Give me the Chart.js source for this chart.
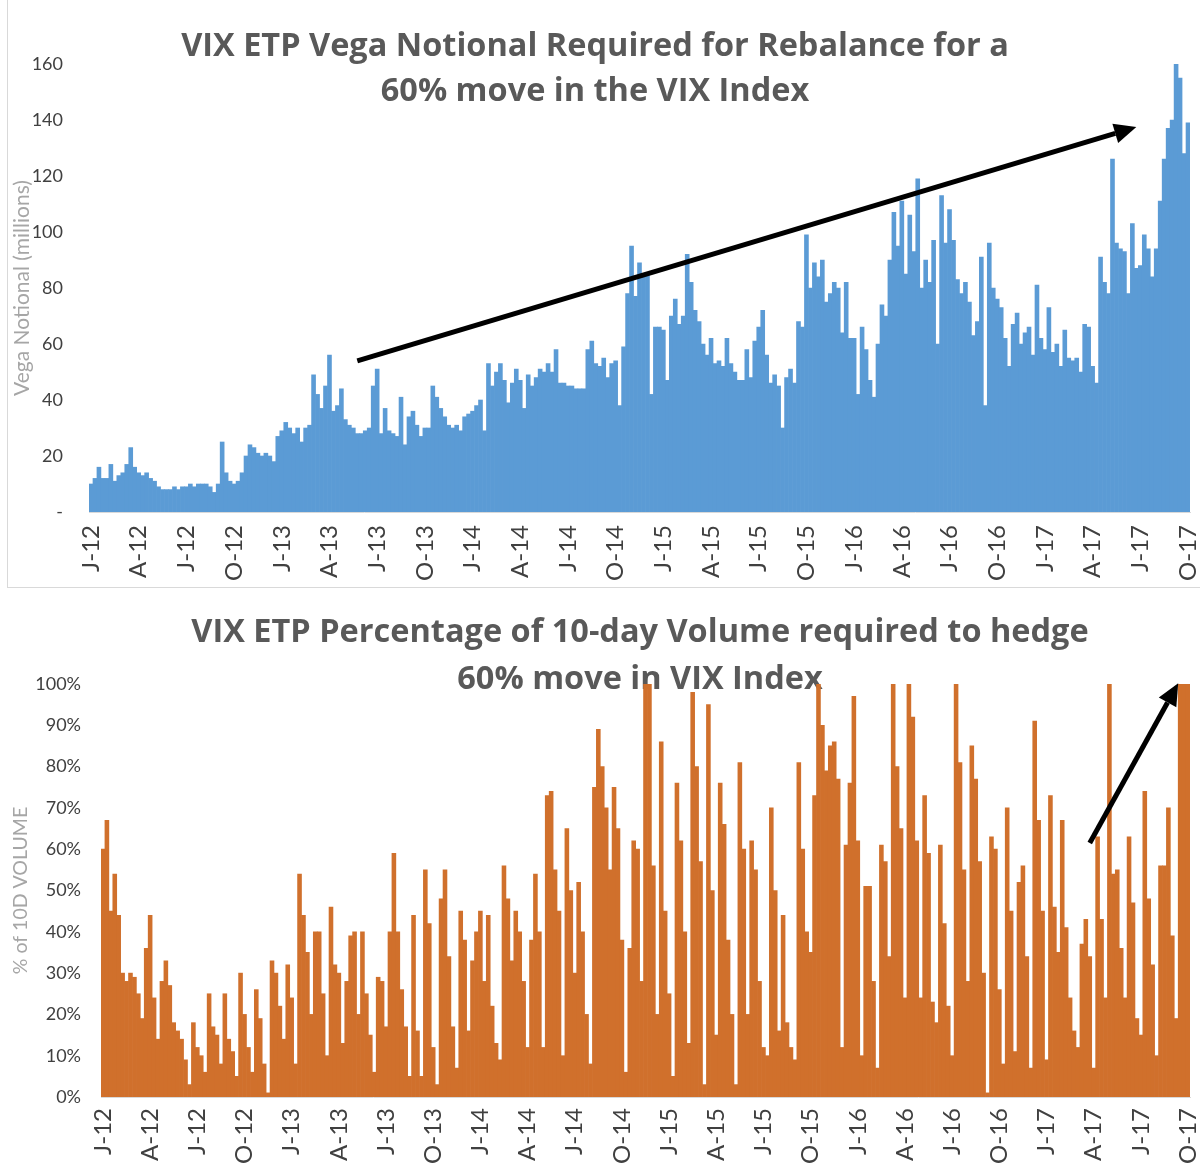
<!DOCTYPE html>
<html>
<head>
<meta charset="utf-8">
<title>VIX ETP rebalance charts</title>
<script src="https://cdn.jsdelivr.net/npm/chart.js@4.4.1/dist/chart.umd.min.js"></script>
<style>
  html, body { margin: 0; padding: 0; background: #fff; }
  #page { position: relative; width: 1200px; height: 1164px; overflow: hidden; }
  #topFrame {
    position: absolute; left: 7px; top: -2px; width: 1210px; height: 589px;
    border-left: 1px solid #d9d9d9; border-bottom: 1px solid #d9d9d9;
  }
  canvas { position: absolute; left: 0; }
  #vegaChart { top: 0; }
  #volumeChart { top: 592px; }
</style>
</head>
<body>
<div id="page">
  <div id="topFrame"></div>
  <canvas id="vegaChart" width="1200" height="588"></canvas>
  <canvas id="volumeChart" width="1200" height="572"></canvas>
</div>
<script>
// quarter tick labels, one every 3 months (4 points per month -> every 12 points)
const quarterLabels = ['J-12','A-12','J-12','O-12','J-13','A-13','J-13','O-13',
  'J-14','A-14','J-14','O-14','J-15','A-15','J-15','O-15',
  'J-16','A-16','J-16','O-16','J-17','A-17','J-17','O-17'];

// vega notional (millions), roughly weekly readings
const vega2012 = [10,12,16,12, 12,17,11,13, 14,17,23,16, 14,13,14,12, 11,9,8,8, 8,9,8,9,
  9,10,9,10, 10,10,9,7, 10,25,14,11, 10,11,14,20, 24,23,21,20, 21,20,18,27];
const vega2013 = [29,32,30,28, 30,25,30,31, 49,42,37,45, 56,36,38,44, 33,31,30,28, 28,29,30,45,
  51,28,37,29, 28,27,41,24, 34,36,31,27, 30,30,45,41, 37,34,31,30, 31,29,34,35];
const vega2014 = [36,38,40,29, 53,45,50,53, 47,39,46,51, 47,37,49,45, 48,51,50,53, 50,58,46,46,
  45,45,44,44, 44,58,61,53, 52,55,48,53, 54,38,59,78, 95,77,89,84, 85,42,66,66];
const vega2015 = [65,47,70,76, 67,70,92,82, 72,68,60,56, 62,53,54,52, 62,53,50,47, 47,58,48,61,
  66,72,56,46, 49,45,30,48, 51,46,68,66, 99,80,89,84, 90,75,78,82, 80,64,82,62];
const vega2016 = [62,42,66,58, 47,41,60,74, 70,90,107,95, 111,85,106,93, 119,80,90,82, 97,60,113,96,
  108,97,83,78, 82,75,63,68, 91,38,96,80, 76,73,62,52, 67,71,60,64, 66,56,81,62];
const vega2017 = [58,73,57,60, 52,65,55,54, 55,50,67,66, 52,46,91,82, 78,126,96,94, 93,78,103,87,
  88,99,94,84, 94,111,126,137, 140,160,155,128, 139];

// % of 10-day volume, same weekly grid
const pct2012 = [60,67,45,54, 44,30,28,30, 29,25,19,36, 44,24,14,28, 33,27,18,16, 14,9,3,18,
  12,10,6,25, 17,15,8,25, 14,11,5,30, 20,12,6,26, 19,8,1,33, 30,22,14,32];
const pct2013 = [24,8,54,44, 35,20,40,40, 25,10,46,32, 30,13,28,39, 40,20,40,25, 15,6,29,28,
  17,40,59,40, 26,17,5,44, 16,5,55,42, 12,3,48,55, 34,17,7,45, 38,16,33,40];
const pct2014 = [45,28,44,22, 13,9,56,48, 33,45,40,28, 12,38,54,40, 12,73,74,55, 45,10,65,50,
  30,52,40,20, 8,75,89,80, 70,55,75,65, 38,6,36,62, 60,28,100,100, 56,20,86,45];
const pct2015 = [25,5,76,62, 40,13,98,80, 57,3,95,50, 15,76,66,38, 20,3,81,60, 20,62,55,28,
  12,10,70,50, 16,44,18,12, 9,81,60,40, 35,73,100,90, 79,85,86,77, 12,61,76,97];
const pct2016 = [62,10,51,51, 28,7,61,57, 34,100,80,65, 24,100,92,62, 24,73,59,23, 18,61,42,22,
  10,100,81,55, 28,85,77,57, 30,1,63,60, 26,8,70,45, 11,52,56,34, 7,91,67,45];
const pct2017 = [9,73,46,35, 67,41,24,16, 12,37,43,34, 7,63,43,24, 100,54,55,36, 24,63,47,19,
  15,74,48,32, 10,56,56,70, 39,19,100,100, 100];

const vegaNotional = [].concat(vega2012, vega2013, vega2014, vega2015, vega2016, vega2017);
const pctVolume = [].concat(pct2012, pct2013, pct2014, pct2015, pct2016, pct2017);

// trend arrows: [point index, value]
const vegaArrow = { from: [67, 54], to: [263, 137.5] };
const volumeArrow = { from: [251, 61.5], to: [273.5, 100.2] };

const family = "Lato, 'Open Sans', sans-serif";
const titleFamily = "'Open Sans', Lato, sans-serif";
const labels = vegaNotional.map((_, i) => i % 12 === 0 ? quarterLabels[i / 12] : '');

const overlay = {
  id: 'overlay',
  beforeDatasetsDraw(chart, args, opts) {
    const ctx = chart.ctx;
    ctx.save();
    ctx.fillStyle = '#595959';
    ctx.font = `bold ${opts.titleSize}px ${titleFamily}`;
    ctx.textAlign = 'center';
    ctx.textBaseline = 'middle';
    opts.title.forEach((line, i) => ctx.fillText(line, opts.titleX, opts.titleY[i]));
    ctx.restore();
  },
  afterDatasetsDraw(chart, args, opts) {
    const {ctx, scales: {x, y}} = chart;
    const x0 = x.getPixelForValue(opts.arrow.from[0]), y0 = y.getPixelForValue(opts.arrow.from[1]);
    const x1 = x.getPixelForValue(opts.arrow.to[0]), y1 = y.getPixelForValue(opts.arrow.to[1]);
    const ang = Math.atan2(y1 - y0, x1 - x0);
    const headLen = 22, headW = 10;
    const bx = x1 - headLen * Math.cos(ang), by = y1 - headLen * Math.sin(ang);
    ctx.save();
    ctx.strokeStyle = '#000';
    ctx.fillStyle = '#000';
    ctx.lineWidth = 5;
    ctx.beginPath();
    ctx.moveTo(x0, y0);
    ctx.lineTo(bx, by);
    ctx.stroke();
    ctx.beginPath();
    ctx.moveTo(x1, y1);
    ctx.lineTo(bx + headW * Math.sin(ang), by - headW * Math.cos(ang));
    ctx.lineTo(bx - headW * Math.sin(ang), by + headW * Math.cos(ang));
    ctx.closePath();
    ctx.fill();
    ctx.restore();
  }
};

function makeChart(id, cfg) {
  return new Chart(document.getElementById(id), {
    type: 'bar',
    data: {
      labels: labels,
      datasets: [{
        data: cfg.data,
        backgroundColor: cfg.color,
        borderWidth: 0,
        barPercentage: 1,
        categoryPercentage: 1
      }]
    },
    options: {
      responsive: false,
      animation: false,
      layout: { padding: { top: cfg.top, right: 10, left: 0, bottom: 0 } },
      plugins: {
        legend: { display: false },
        tooltip: { enabled: false },
        overlay: cfg.overlay
      },
      scales: {
        x: {
          grid: { display: false, drawTicks: false },
          border: { display: true, color: '#d9d9d9' },
          ticks: {
            autoSkip: false, minRotation: 90, maxRotation: 90,
            padding: cfg.xPad, color: '#404040', font: { family: family, size: 24 }
          },
          afterFit: s => {
            s.height = cfg.xHeight;
            s.paddingLeft = 0;
            s.paddingRight = 0;
          }
        },
        y: {
          min: 0,
          max: cfg.max,
          grid: { display: false, drawTicks: false },
          border: { display: false },
          ticks: {
            stepSize: cfg.step, padding: cfg.yPad, color: '#404040',
            font: { family: family, size: 18 }, callback: cfg.fmt
          },
          title: {
            display: true, text: cfg.yTitle, color: '#a6a6a6',
            font: { family: family, size: cfg.yTitleSize }, padding: { top: cfg.yTitlePad, bottom: 0 }
          },
          afterFit: s => { s.width = cfg.yWidth; }
        }
      }
    },
    plugins: [overlay]
  });
}

makeChart('vegaChart', {
  data: vegaNotional,
  color: '#5b9bd5',
  top: 64, xPad: 13, xHeight: 76,
  max: 160, step: 20, yPad: 26, yWidth: 89, yTitlePad: 10, yTitleSize: 21,
  yTitle: 'Vega Notional (millions)',
  fmt: v => v === 0 ? '-' : v,
  overlay: {
    title: ['VIX ETP Vega Notional Required for Rebalance for a', '60% move in the VIX Index'],
    titleSize: 32.5, titleX: 595, titleY: [47, 92],
    arrow: vegaArrow
  }
});

makeChart('volumeChart', {
  data: pctVolume,
  color: '#d0702c',
  top: 92, xPad: 11, xHeight: 67,
  max: 100, step: 10, yPad: 20, yWidth: 101, yTitlePad: 9, yTitleSize: 19.5,
  yTitle: '% of 10D VOLUME',
  fmt: v => v + '%',
  overlay: {
    title: ['VIX ETP Percentage of 10-day Volume required to hedge', '60% move in VIX Index'],
    titleSize: 32.5, titleX: 640, titleY: [41, 88],
    arrow: volumeArrow
  }
});
</script>
</body>
</html>
